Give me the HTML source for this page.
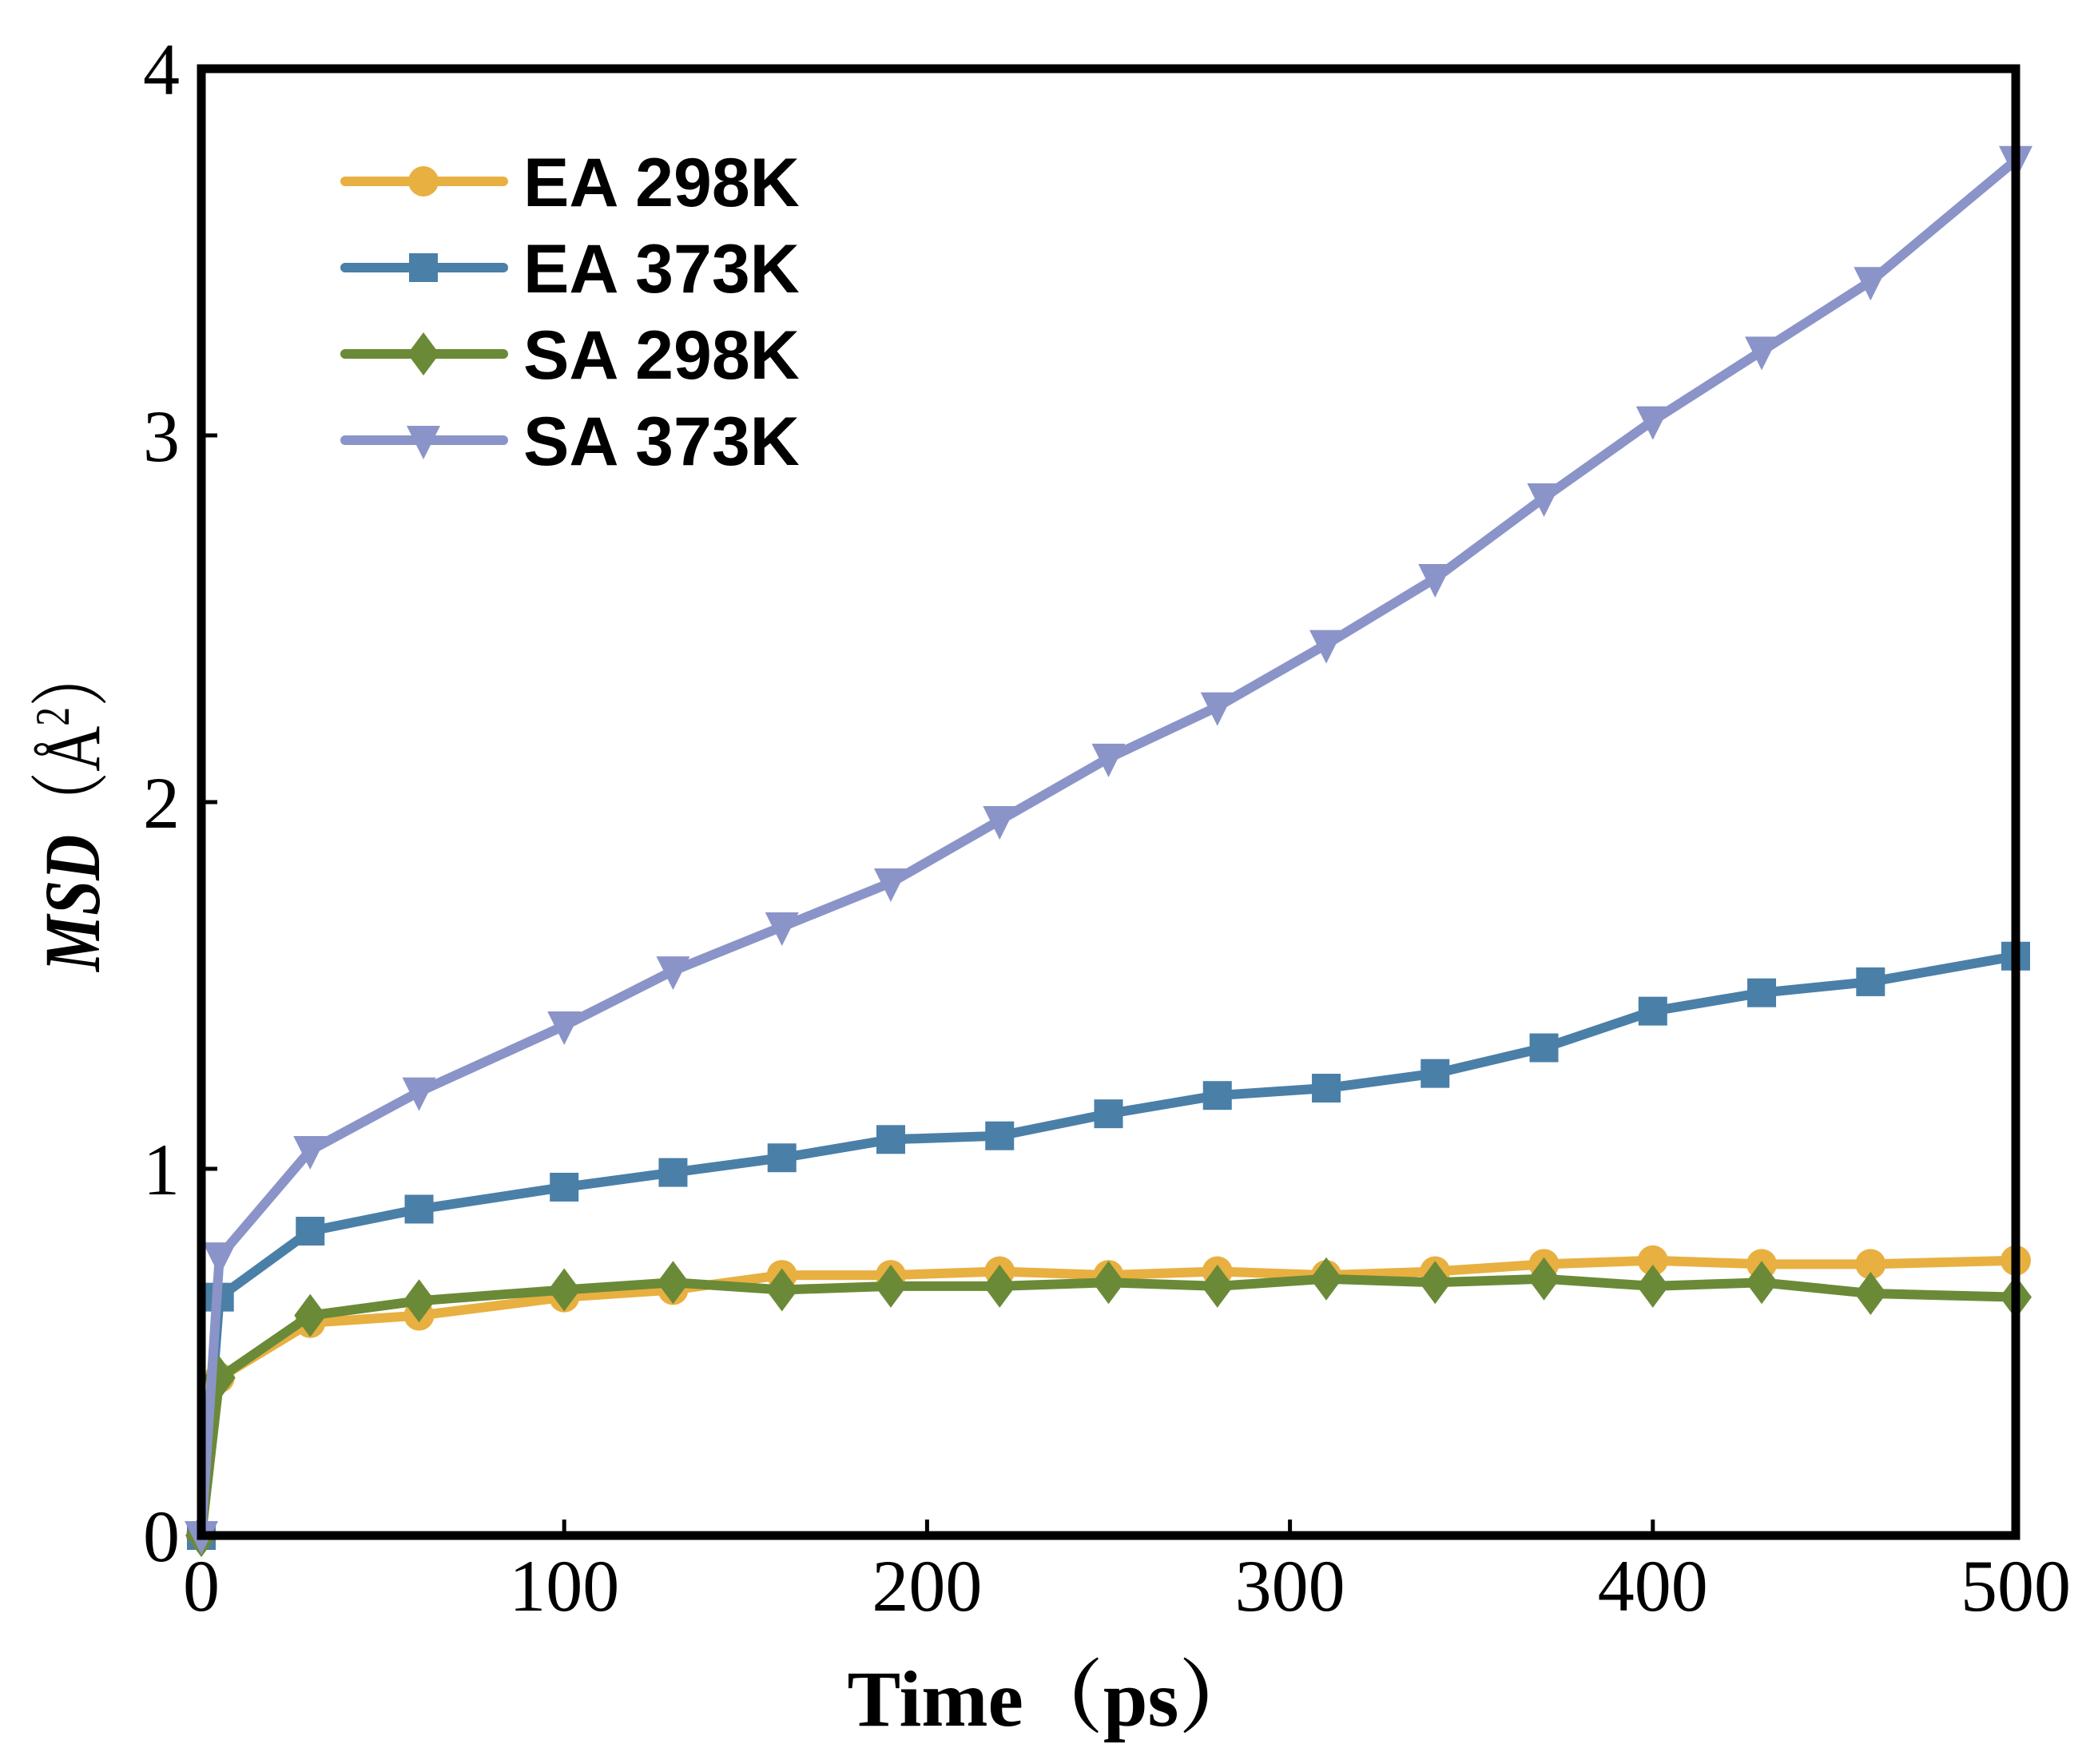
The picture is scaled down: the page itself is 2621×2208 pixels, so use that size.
<!DOCTYPE html>
<html><head><meta charset="utf-8"><style>
html,body{margin:0;padding:0;background:#fff;}
svg{display:block;}
</style></head><body>
<svg id="chart" width="2621" height="2208" viewBox="0 0 2621 2208" xmlns="http://www.w3.org/2000/svg">
<g id="plot"></g>
<g id="axes"></g>
<g id="legend"></g>
</svg>
<script>
const times = [0,5,30,60,100,130,160,190,220,250,280,310,340,370,400,430,460,500];
const ea298 = [0,0.43,0.58,0.60,0.65,0.67,0.71,0.71,0.72,0.71,0.72,0.71,0.72,0.74,0.75,0.74,0.74,0.75];
const ea373 = [0,0.65,0.83,0.89,0.95,0.99,1.03,1.08,1.09,1.15,1.20,1.22,1.26,1.33,1.43,1.48,1.51,1.58];
const sa298 = [0,0.43,0.60,0.64,0.67,0.69,0.67,0.68,0.68,0.69,0.68,0.70,0.69,0.70,0.68,0.69,0.66,0.65];
const sa373 = [0,0.76,1.05,1.21,1.39,1.54,1.66,1.78,1.95,2.12,2.26,2.43,2.61,2.83,3.04,3.23,3.42,3.75];
const xTicks = [0,100,200,300,400,500];
const yTicks = [0,1,2,3,4];
const seriesNames = ["EA 298K","EA 373K","SA 298K","SA 373K"];

const NS="http://www.w3.org/2000/svg";
const L=252,R=2523,T=86,B=1922;
const xs=v=>L+(v-0)/(500-0)*(R-L);
const ys=v=>B-(v-0)/(4-0)*(B-T);
function mk(tag,parent){const e=document.createElementNS(NS,tag);parent.appendChild(e);return e;}
const plot=document.getElementById('plot'),axes=document.getElementById('axes'),legend=document.getElementById('legend');
const colors=["#E8B040","#4A7FA8","#6A8A38","#8A94C8"];
const shapes=["circle","square","diamond","tri"];
function marker(shape,x,y,c,parent){
  let e;
  if(shape==="circle"){e=mk('circle',parent);e.setAttribute('cx',x);e.setAttribute('cy',y);e.setAttribute('r',19);}
  else if(shape==="square"){e=mk('rect',parent);e.setAttribute('x',x-18);e.setAttribute('y',y-18);e.setAttribute('width',36);e.setAttribute('height',36);}
  else if(shape==="diamond"){e=mk('polygon',parent);e.setAttribute('points',`${x},${y-27} ${x+20},${y} ${x},${y+27} ${x-20},${y}`);}
  else {e=mk('polygon',parent);e.setAttribute('points',`${x-21},${y-18} ${x+21},${y-18} ${x},${y+24}`);}
  e.setAttribute('fill',c);
  return e;
}
const data=[ea298,ea373,sa298,sa373];
data.forEach((s,i)=>{
  const g=mk('g',plot);
  
  
  const p=mk('polyline',g);
  
  
  p.setAttribute('points',s.map((v,j)=>xs(times[j])+','+ys(v)).join(' '));
  p.setAttribute('fill','none');p.setAttribute('stroke',colors[i]);p.setAttribute('stroke-width',12);p.setAttribute('stroke-linejoin','round');
  s.forEach((v,j)=>{
    const m=marker(shapes[i],xs(times[j]),ys(v),colors[i],g);
    
    
  });
});
const fr=mk('rect',axes);


fr.setAttribute('x',L);fr.setAttribute('y',T);fr.setAttribute('width',R-L);fr.setAttribute('height',B-T);
fr.setAttribute('fill','none');fr.setAttribute('stroke','#000');fr.setAttribute('stroke-width',11);
xTicks.forEach(v=>{
  const t=mk('line',axes);
  
  
  t.setAttribute('x1',xs(v));t.setAttribute('x2',xs(v));t.setAttribute('y1',B);t.setAttribute('y2',B-20);t.setAttribute('stroke','#000');t.setAttribute('stroke-width',5);
  const tx=mk('text',axes);
  
  
  tx.setAttribute('x',xs(v));tx.setAttribute('y',2016);tx.setAttribute('text-anchor','middle');
  tx.setAttribute('font-family','Liberation Serif, serif');tx.setAttribute('font-size',92);
  tx.textContent=v;
});
yTicks.forEach(v=>{
  const t=mk('line',axes);
  
  
  t.setAttribute('x1',L);t.setAttribute('x2',L+20);t.setAttribute('y1',ys(v));t.setAttribute('y2',ys(v));t.setAttribute('stroke','#000');t.setAttribute('stroke-width',5);
  const tx=mk('text',axes);
  
  
  tx.setAttribute('x',225);tx.setAttribute('y',ys(v)+32);tx.setAttribute('text-anchor','end');
  tx.setAttribute('font-family','Liberation Serif, serif');tx.setAttribute('font-size',92);
  tx.textContent=v;
});
seriesNames.forEach((n,i)=>{
  const y=227+i*108;
  const g=mk('g',legend);
  
  
  const l=mk('line',g);
  l.setAttribute('x1',432);l.setAttribute('x2',630);l.setAttribute('y1',y);l.setAttribute('y2',y);
  l.setAttribute('stroke',colors[i]);l.setAttribute('stroke-width',12);l.setAttribute('stroke-linecap','round');
  marker(shapes[i],530,y,colors[i],g);
  const t=mk('text',g);
  t.setAttribute('x',655);t.setAttribute('y',y+31);
  t.setAttribute('font-family','Liberation Sans, Arial, sans-serif');t.setAttribute('font-weight','bold');t.setAttribute('font-size',86);
  t.textContent=n;
});
</script>
<svg style="position:absolute;left:0;top:0" width="2621" height="2208">
<text x="1318" y="2160" text-anchor="middle" font-family="Liberation Serif, 'Noto Serif CJK SC', serif" font-weight="bold" font-size="100">Time（ps）</text>
<text transform="translate(124,1016) rotate(-90)" x="-200" textLength="410" lengthAdjust="spacingAndGlyphs" font-family="Liberation Serif, 'Noto Serif CJK SC', serif" font-weight="bold" font-size="100"><tspan font-style="italic">MSD</tspan><tspan font-weight="normal">（Å<tspan font-size="60" dy="-38">2</tspan><tspan dy="38">）</tspan></tspan></text>
</svg>
</body></html>
